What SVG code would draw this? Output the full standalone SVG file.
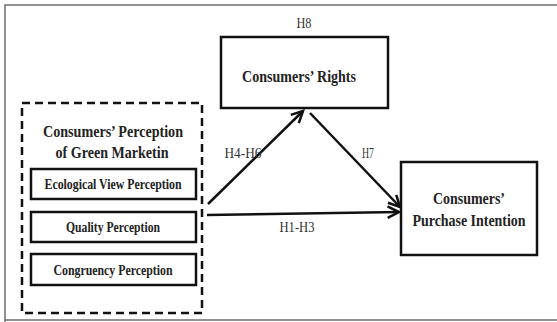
<svg xmlns="http://www.w3.org/2000/svg" width="557" height="322" viewBox="0 0 557 322">
<defs>
<style>
.frame{fill:none;stroke:#6e6e6e;stroke-width:1.5}
.box{fill:#fff;stroke:#111;stroke-width:2.5}
.dash{fill:none;stroke:#111;stroke-width:2.5;stroke-dasharray:8 5}
.t{font-family:"Liberation Serif","Times New Roman",serif;font-weight:bold;fill:#222;text-anchor:middle}
.h{font-family:"Liberation Serif","Times New Roman",serif;fill:#333;font-size:15px;text-anchor:middle}
.conn{fill:none;stroke:#111;stroke-width:2.5}
</style>
<marker id="arr" markerUnits="userSpaceOnUse" markerWidth="16" markerHeight="16" refX="11" refY="6" orient="auto" viewBox="0 0 14 12">
<path d="M1,1 L11,6 L1,11" fill="none" stroke="#111" stroke-width="2.2"/>
</marker>
</defs>
<rect width="557" height="322" fill="#fff"/>
<path class="frame" d="M5,322 V5 H557 M5,320 H557"/>
<g id="perception">
<rect class="dash" x="22" y="103" width="180" height="210"/>
<text class="t" x="113" y="137" font-size="16" textLength="140" lengthAdjust="spacingAndGlyphs">Consumers’ Perception</text>
<text class="t" x="112" y="158" font-size="16" textLength="113" lengthAdjust="spacingAndGlyphs">of Green Marketin</text>
</g>
<g id="ecological">
<rect class="box" x="31" y="169" width="165" height="30"/>
<text class="t" x="113" y="189" font-size="14" textLength="137" lengthAdjust="spacingAndGlyphs">Ecological View Perception</text>
</g>
<g id="quality">
<rect class="box" x="31" y="212" width="165" height="30"/>
<text class="t" x="113" y="232" font-size="14" textLength="94" lengthAdjust="spacingAndGlyphs">Quality Perception</text>
</g>
<g id="congruency">
<rect class="box" x="31" y="254" width="165" height="31"/>
<text class="t" x="113" y="275" font-size="14" textLength="119" lengthAdjust="spacingAndGlyphs">Congruency Perception</text>
</g>
<g id="rights">
<rect class="box" x="221" y="37" width="167" height="71"/>
<text class="t" x="299" y="82" font-size="16" textLength="114" lengthAdjust="spacingAndGlyphs">Consumers’ Rights</text>
</g>
<g id="intention">
<rect class="box" x="401" y="162" width="136" height="93"/>
<text class="t" x="469" y="204" font-size="16" textLength="72" lengthAdjust="spacingAndGlyphs">Consumers’</text>
<text class="t" x="469" y="226" font-size="16" textLength="113" lengthAdjust="spacingAndGlyphs">Purchase Intention</text>
</g>
<g id="connectors">
<line class="conn" x1="208" y1="204" x2="303" y2="111" marker-end="url(#arr)"/>
<line class="conn" x1="310" y1="113" x2="400" y2="207" marker-end="url(#arr)"/>
<line class="conn" x1="207" y1="215" x2="399" y2="212" marker-end="url(#arr)"/>
<text class="h" x="304" y="28" textLength="15" lengthAdjust="spacingAndGlyphs">H8</text>
<text class="h" x="243" y="158" textLength="37" lengthAdjust="spacingAndGlyphs">H4-H6</text>
<text class="h" x="368" y="158" textLength="12" lengthAdjust="spacingAndGlyphs">H7</text>
<text class="h" x="297" y="232" textLength="35" lengthAdjust="spacingAndGlyphs">H1-H3</text>
</g>
</svg>
